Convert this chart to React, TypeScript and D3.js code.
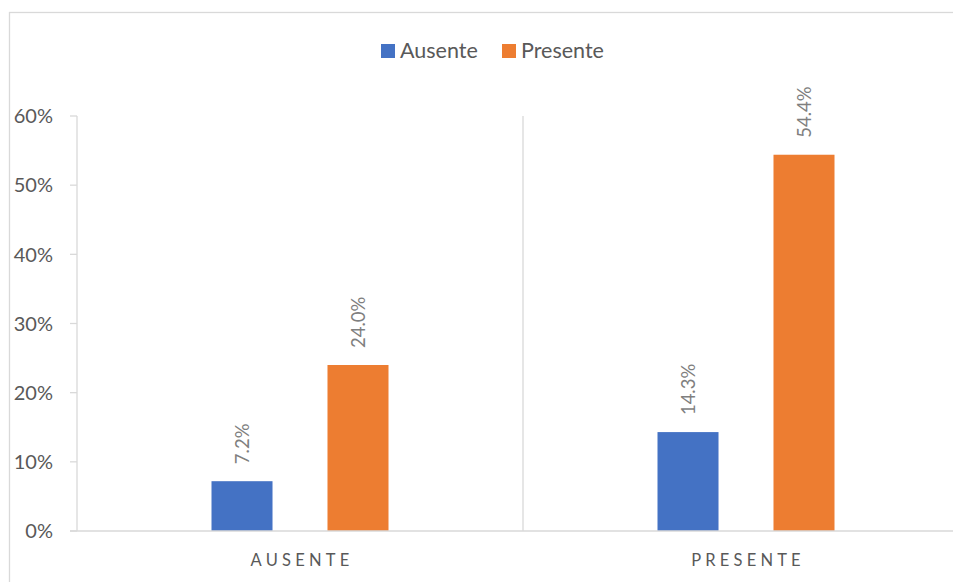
import React from "react";
import * as d3 from "d3";

const categories = ["AUSENTE", "PRESENTE"];
const seriesNames = ["Ausente", "Presente"];
const ausenteValues = [0.072, 0.143];
const presenteValues = [0.24, 0.544];
const seriesColors = ["#4472C4", "#ED7D31"];
const yTicks = [0, 0.1, 0.2, 0.3, 0.4, 0.5, 0.6];

const W = 953;
const H = 582;
const plot = { left: 77, right: 969, top: 116, bottom: 531 };
const FONT = "Lato, 'Open Sans', sans-serif";

export default function App() {
  const seriesValues = [ausenteValues, presenteValues];

  const x0 = d3
    .scaleBand<string>()
    .domain(categories)
    .range([plot.left, plot.right])
    .padding(0);
  const groupOuter = 134.5;
  const x1 = d3
    .scaleBand<string>()
    .domain(seriesNames)
    .range([groupOuter, x0.bandwidth() - groupOuter])
    .paddingInner(0.474)
    .paddingOuter(0);
  const y = d3.scaleLinear().domain([0, 0.6]).range([plot.bottom, plot.top]);
  const pct0 = d3.format(".0%");
  const pct1 = d3.format(".1%");

  const grid = "#d9d9d9";

  return (
    <div style={{ position: "fixed", left: 0, top: 0 }}>
      <svg width={W} height={H} style={{ display: "block", background: "#fff" }}>
        {/* chart frame */}
        <rect x={9.5} y={12.5} width={1000} height={700} fill="#fff" stroke={grid} strokeWidth={1.3} />

        {/* legend */}
        <g fontFamily={FONT} fontSize={21.5} fill="#595959">
          {seriesNames.map((s, i) => {
            const lx = i === 0 ? 381 : 502;
            return (
              <g key={s}>
                <rect x={lx} y={44} width={14} height={14} fill={seriesColors[i]} />
                <text x={lx + 19} y={58}>{s}</text>
              </g>
            );
          })}
        </g>

        {/* y axis */}
        <line x1={plot.left} x2={plot.left} y1={plot.top} y2={plot.bottom} stroke={grid} strokeWidth={1.3} />
        {yTicks.map((t) => (
          <g key={t}>
            <line x1={plot.left - 7} x2={plot.left} y1={y(t)} y2={y(t)} stroke={grid} strokeWidth={1.3} />
            <text
              x={53}
              y={y(t)}
              dy="0.36em"
              textAnchor="end"
              fontFamily={FONT}
              fontSize={20}
              fill="#595959"
            >
              {pct0(t)}
            </text>
          </g>
        ))}

        {/* category divider */}
        {categories.slice(1).map((c) => (
          <line
            key={c}
            x1={x0(c)!}
            x2={x0(c)!}
            y1={plot.top}
            y2={plot.bottom}
            stroke={grid}
            strokeWidth={1.3}
          />
        ))}

        {/* bars and value labels */}
        {categories.map((c, ci) => (
          <g key={c} transform={`translate(${x0(c)},0)`}>
            {seriesNames.map((s, si) => {
              const v = seriesValues[si][ci];
              const bx = x1(s)!;
              const cx = bx + x1.bandwidth() / 2;
              return (
                <g key={s}>
                  <rect
                    x={bx}
                    y={y(v)}
                    width={x1.bandwidth()}
                    height={plot.bottom - y(v)}
                    fill={seriesColors[si]}
                  />
                  <text
                    transform={`translate(${cx},${y(v) - 17}) rotate(-90)`}
                    dy="0.36em"
                    fontFamily={FONT}
                    fontSize={18.5}
                    fill="#7f7f7f"
                  >
                    {pct1(v)}
                  </text>
                </g>
              );
            })}
          </g>
        ))}

        {/* x baseline */}
        <line x1={plot.left - 7} x2={plot.right} y1={plot.bottom} y2={plot.bottom} stroke={grid} strokeWidth={1.3} />

        {/* category labels */}
        {categories.map((c) => (
          <text
            key={c}
            x={x0(c)! + x0.bandwidth() / 2 + 2}
            y={566}
            textAnchor="middle"
            fontFamily={FONT}
            fontSize={16.5}
            letterSpacing={4.2}
            fill="#595959"
          >
            {c}
          </text>
        ))}
      </svg>
    </div>
  );
}
